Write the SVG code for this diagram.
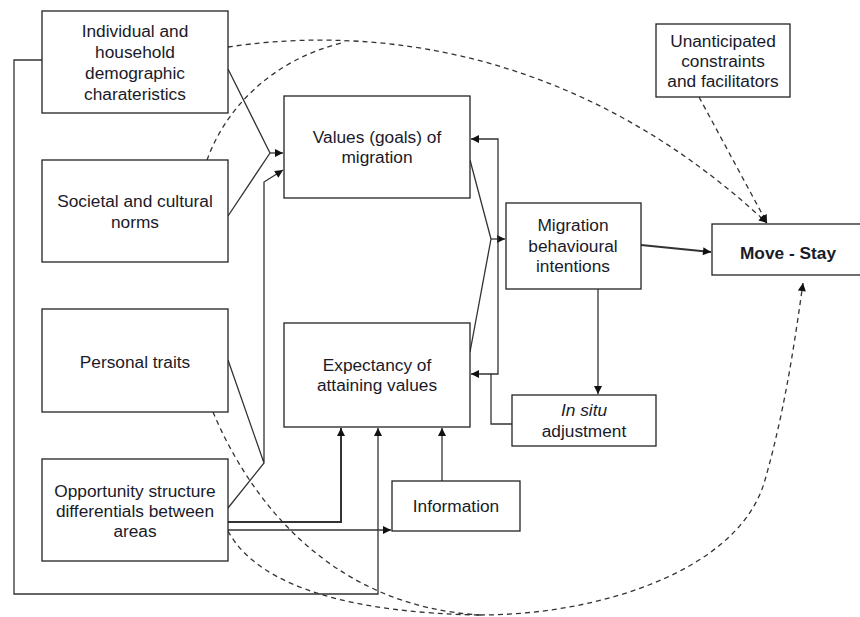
<svg xmlns="http://www.w3.org/2000/svg" width="860" height="617" viewBox="0 0 860 617">
<defs>
<style>
.box{fill:#fff;stroke:#222;stroke-width:1.3}
.t{font-family:"Liberation Sans",Arial,sans-serif;font-size:17.3px;fill:#1a1a2a;text-anchor:middle}
.ln{fill:none;stroke:#333;stroke-width:1.3}
.dash{fill:none;stroke:#333;stroke-width:1.3;stroke-dasharray:5,4}
</style>
<marker id="ah" viewBox="0 0 10 10" refX="10" refY="5" markerUnits="userSpaceOnUse" markerWidth="9" markerHeight="8" orient="auto">
<path d="M0,0 L10,5 L0,10 z" fill="#111"/>
</marker>
</defs>
<rect width="860" height="617" fill="#fff"/>
<g id="connectors">
<path class="ln" d="M42,60 H14 V594 H378 V428" marker-end="url(#ah)"/>
<path class="ln" d="M228,69 L270,153 M228,216 L270,153"/>
<path class="ln" d="M270,153 H283" marker-end="url(#ah)"/>
<path class="ln" d="M228,360 L264,463 M228,508 L264,463 V182 L283,170" marker-end="url(#ah)"/>
<path class="ln" style="stroke-width:2" d="M228,522 H341 V428" marker-end="url(#ah)"/>
<path class="ln" d="M228,530 H391" marker-end="url(#ah)"/>
<path class="ln" d="M442,481 V428" marker-end="url(#ah)"/>
<path class="ln" d="M470,160 L491,239 M470,352 L491,239"/>
<path class="ln" d="M491,239 H505" marker-end="url(#ah)"/>
<path class="ln" d="M598,289 V394" marker-end="url(#ah)"/>
<path class="ln" d="M512,424 H491 V374 H471" marker-end="url(#ah)"/>
<path class="ln" d="M491,374 H498 V139 H471" marker-end="url(#ah)"/>
<path class="ln" style="stroke-width:2" d="M641,245 L711,252" marker-end="url(#ah)"/>
<path class="dash" d="M228,47 C340,30 560,30 767,223" marker-end="url(#ah)"/>
<path class="dash" d="M207,160 C225,110 270,60 345,42"/>
<path class="dash" d="M699,97 L767,223" marker-end="url(#ah)"/>
<path class="dash" d="M213,412 C250,500 330,606 480,615"/>
<path class="dash" d="M228,531 C260,590 360,613 480,615"/>
<path class="dash" d="M480,615 C600,615 740,570 765,480 C785,410 795,340 803,283" marker-end="url(#ah)"/>
</g>
<g id="individual">
<rect class="box" x="42" y="11" width="186" height="102"/>
<text class="t" x="135" y="37">Individual and</text>
<text class="t" x="135" y="58">household</text>
<text class="t" x="135" y="79">demographic</text>
<text class="t" x="135" y="100">charateristics</text>
</g>
<g id="societal">
<rect class="box" x="42" y="160" width="186" height="102"/>
<text class="t" x="135" y="207">Societal and cultural</text>
<text class="t" x="135" y="228">norms</text>
</g>
<g id="personal">
<rect class="box" x="42" y="309" width="186" height="103"/>
<text class="t" x="135" y="368">Personal traits</text>
</g>
<g id="opportunity">
<rect class="box" x="42" y="459" width="186" height="102"/>
<text class="t" x="135" y="497">Opportunity structure</text>
<text class="t" x="135" y="517">differentials between</text>
<text class="t" x="135" y="537">areas</text>
</g>
<g id="values">
<rect class="box" x="284" y="96" width="186" height="102"/>
<text class="t" x="377" y="143">Values (goals) of</text>
<text class="t" x="377" y="163">migration</text>
</g>
<g id="expectancy">
<rect class="box" x="284" y="323" width="186" height="104"/>
<text class="t" x="377" y="371">Expectancy of</text>
<text class="t" x="377" y="391">attaining values</text>
</g>
<g id="information">
<rect class="box" x="392" y="481" width="128" height="50"/>
<text class="t" x="456" y="512">Information</text>
</g>
<g id="migration">
<rect class="box" x="506" y="203" width="135" height="86"/>
<text class="t" x="573" y="231">Migration</text>
<text class="t" x="573" y="252">behavioural</text>
<text class="t" x="573" y="272">intentions</text>
</g>
<g id="insitu">
<rect class="box" x="512" y="395" width="144" height="51"/>
<text class="t" x="584" y="416" font-style="italic">In situ</text>
<text class="t" x="584" y="437">adjustment</text>
</g>
<g id="unanticipated">
<rect class="box" x="656" y="24" width="134" height="73"/>
<text class="t" x="723" y="47">Unanticipated</text>
<text class="t" x="723" y="67">constraints</text>
<text class="t" x="723" y="87">and facilitators</text>
</g>
<g id="movestay">
<rect class="box" x="712" y="224" width="152" height="51"/>
<text class="t" x="788" y="259" font-weight="bold">Move - Stay</text>
</g>
</svg>
